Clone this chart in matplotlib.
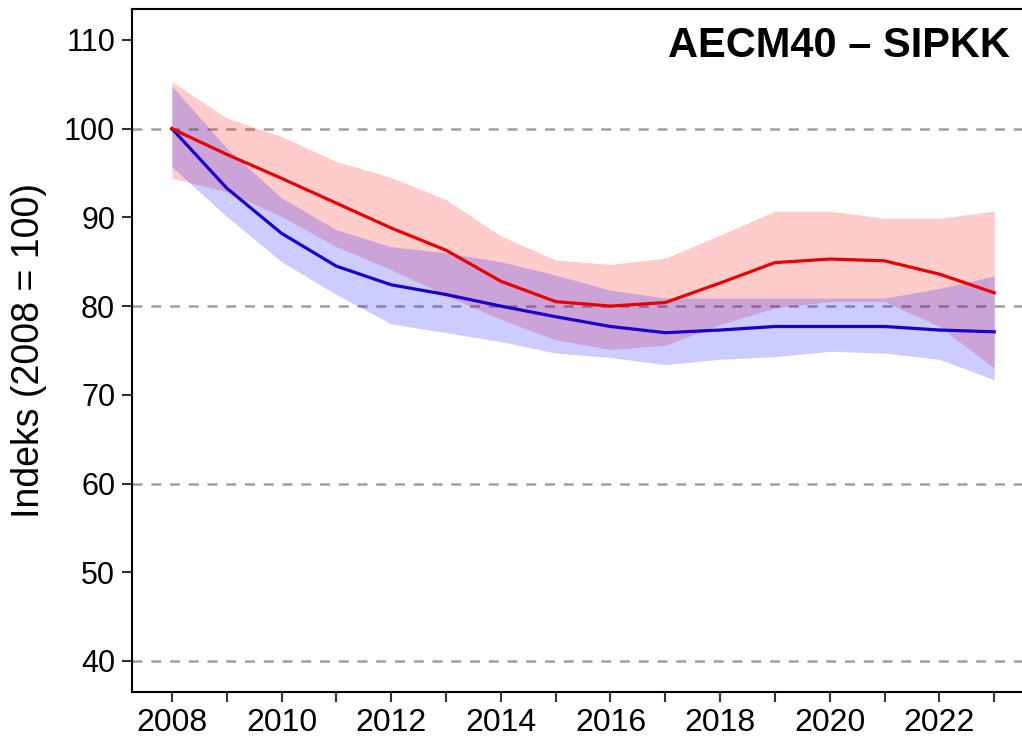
import numpy as np
import matplotlib.pyplot as plt

years = list(range(2008, 2024))

# red series with its band
red = [100, 97.1, 94.4, 91.6, 88.8, 86.3, 82.8, 80.5, 80.0, 80.4, 82.6, 84.9, 85.3, 85.1, 83.6, 81.5]
red_hi = [105.3, 101.2, 99.1, 96.3, 94.5, 92.0, 87.9, 85.2, 84.7, 85.4, 88.0, 90.7, 90.7, 89.9, 89.9, 90.7]
red_lo = [94.4, 92.9, 90.1, 86.7, 84.1, 81.2, 78.5, 76.2, 75.1, 75.6, 77.9, 79.8, 80.5, 80.5, 77.7, 73.0]

# blue series with its band
blue = [100, 93.3, 88.2, 84.5, 82.4, 81.3, 80.0, 78.8, 77.7, 77.0, 77.3, 77.7, 77.7, 77.7, 77.3, 77.1]
blue_hi = [104.8, 97.8, 92.2, 88.6, 86.7, 86.0, 85.0, 83.5, 81.8, 80.9, 80.9, 80.9, 80.9, 80.9, 82.0, 83.4]
blue_lo = [95.7, 90.1, 85.0, 81.3, 78.0, 77.0, 76.0, 74.7, 74.2, 73.4, 74.0, 74.3, 74.9, 74.7, 74.0, 71.7]

y_ticks = [40, 50, 60, 70, 80, 90, 100, 110]
grid_lines = [40, 60, 80, 100]
x_labels = [str(y) if y % 2 == 0 else '' for y in years]

plt.rcParams['font.family'] = ['Liberation Sans', 'DejaVu Sans']

fig = plt.figure(figsize=(10.22, 7.37), dpi=100)
ax = fig.add_axes([0.129, 0.061, 0.875, 0.927])

for g in grid_lines:
    ax.axhline(g, color='#a0a0a0', lw=1.8, ls=(0, (4, 3.5)), zorder=1)

ax.fill_between(years, red_lo, red_hi, color='red', alpha=0.2, lw=0, zorder=2)
ax.fill_between(years, blue_lo, blue_hi, color='blue', alpha=0.2, lw=0, zorder=2)
ax.plot(years, blue, color='#1a00cc', lw=2.3, zorder=3)
ax.plot(years, red, color='#e60000', lw=2.3, zorder=3)

ax.set_xlim(2007.27, 2023.58)
ax.set_ylim(36.5, 113.5)
ax.set_xticks(years)
ax.set_xticklabels(x_labels, fontsize=23)
ax.set_yticks(y_ticks)
ax.tick_params(axis='y', labelsize=22, length=7, width=1.5, color='#333333', pad=5)
ax.tick_params(axis='x', length=7.5, width=1.5, color='#333333', pad=4)
for s in ax.spines.values():
    s.set_linewidth(1.5)
ax.spines['right'].set_visible(False)

ax.set_ylabel('Indeks (2008 = 100)', fontsize=27, labelpad=12)
ax.text(0.982, 0.975, 'AECM40 \u2013 SIPKK', transform=ax.transAxes, ha='right', va='top',
        fontsize=30, fontweight='bold')

fig.savefig('out.png', dpi=100)
